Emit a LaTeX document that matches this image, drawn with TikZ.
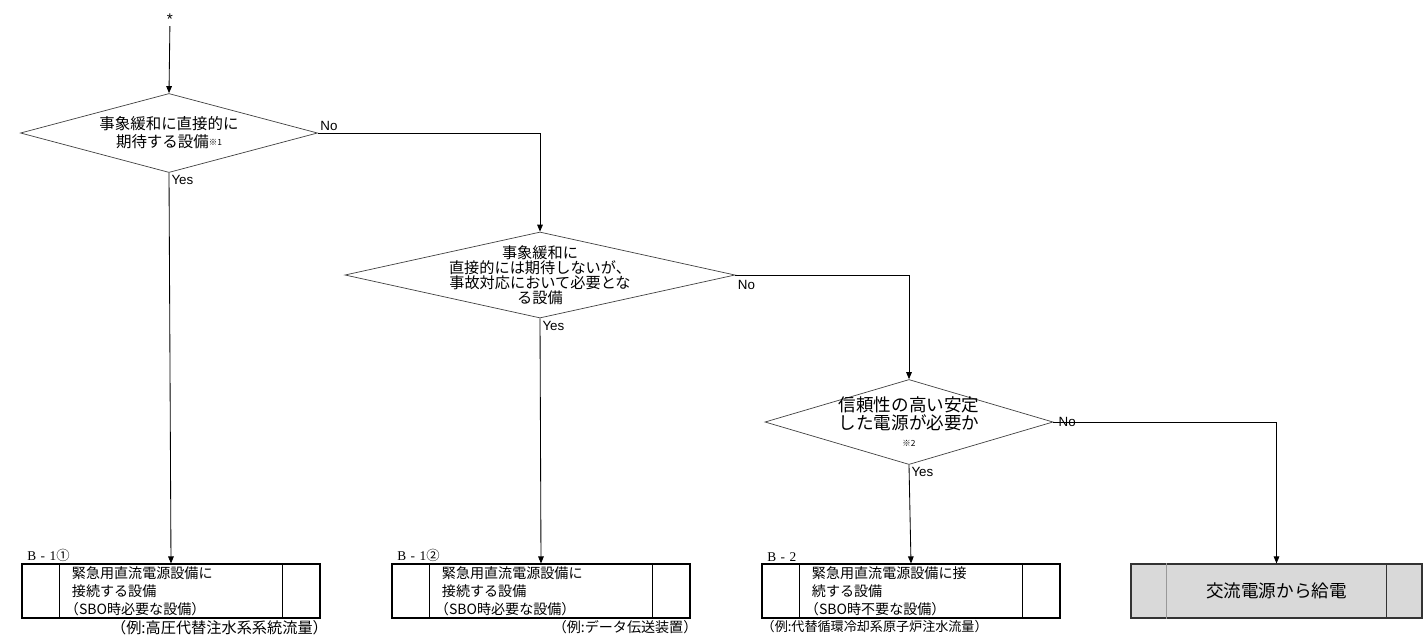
\documentclass[tikz,border=0pt]{standalone}
\usepackage{fontspec}
\setmainfont{Noto Sans CJK JP}
\newfontfamily\lsans{Liberation Sans}
\newfontfamily\lserif{Liberation Serif}
\usetikzlibrary{shapes.geometric,arrows.meta}
\tikzset{
  decision/.style={diamond,draw=black!75,line width=0.5pt,inner sep=0pt},
  dtext/.style={align=center,inner sep=0pt},
  procbox/.style={rectangle,draw,line width=0.8pt,minimum width=7.45cm,minimum height=1.35cm,
    text width=4.95cm,inner xsep=1.25cm,inner ysep=0pt,align=left,font=\fontsize{10}{12.8}\selectfont},
  yn/.style={font=\lsans\fontsize{9.5}{9.5}\selectfont,inner sep=1.5pt},
  tag/.style={font=\fontsize{9.5}{9.5}\selectfont,inner sep=1pt,anchor=south west},
  exnote/.style={inner sep=0pt},
  flow/.style={-{Triangle[length=5pt,width=4pt]},line width=0.6pt}
}
\begin{document}
\begin{tikzpicture}[x=0.025cm,y=-0.025cm]
\useasboundingbox (0,0) rectangle (1427,641);

\node[inner sep=1pt,font=\lsans\fontsize{11}{11}\selectfont] (start) at (170,19) {*};

\node[decision,minimum width=7.425cm,minimum height=1.975cm,
  label={[dtext,font=\fontsize{11}{12.8}\selectfont]center:事象緩和に直接的に\\期待する設備{\fontsize{6}{6}\selectfont\raisebox{0.6ex}{※1}}}] (d1) at (169,133) {};
\node[decision,minimum width=9.75cm,minimum height=2.15cm,
  label={[dtext,font=\fontsize{10.8}{10.8}\selectfont]center:事象緩和に\\直接的には期待しないが、\\事故対応において必要とな\\る設備}] (d2) at (540,275) {};
\node[decision,minimum width=7.2cm,minimum height=2.125cm,
  label={[dtext,font=\fontsize{12.5}{12.5}\selectfont]center:信頼性の高い安定\\した電源が必要か\\{\fontsize{6}{6}\selectfont ※2}}] (d3) at (909,422) {};

\node[procbox] (b1) at (171,591) {緊急用直流電源設備に\\接続する設備\\\hspace*{-0.5em}（SBO時必要な設備）};
\node[procbox] (b2) at (541,591) {緊急用直流電源設備に\\接続する設備\\\hspace*{-0.5em}（SBO時必要な設備）};
\node[procbox] (b3) at (911,591) {緊急用直流電源設備に接\\続する設備\\\hspace*{-0.5em}（SBO時不要な設備）};
\node[procbox,fill=black!15,draw=black!80,minimum width=7.275cm,text width=5.375cm,inner xsep=0.95cm,
  align=center,font=\fontsize{12.5}{12.5}\selectfont] (b4) at (1276.5,591) {交流電源から給電};

\foreach \b in {b1,b2,b3}{
  \draw[line width=0.6pt] ([xshift=0.95cm]\b.north west) -- ([xshift=0.95cm]\b.south west);
  \draw[line width=0.6pt] ([xshift=-0.95cm]\b.north east) -- ([xshift=-0.95cm]\b.south east);
}
\draw[black!40,line width=0.6pt] ([xshift=0.9cm]b4.north west) -- ([xshift=0.9cm]b4.south west);
\draw[black!80,line width=0.6pt] ([xshift=-0.9cm]b4.north east) -- ([xshift=-0.9cm]b4.south east);

\node[tag] (t1) at ([xshift=3]b1.north west) {{\lserif B\,\,-\,\,1}①};
\node[tag] (t2) at ([xshift=3]b2.north west) {{\lserif B\,\,-\,\,1}②};
\node[tag] (t3) at ([xshift=3]b3.north west) {{\lserif B\,\,-\,\,2}};

\node[exnote,anchor=north east,font=\fontsize{10.8}{10.8}\selectfont] (e1) at ([yshift=-1]b1.south east) {（例:高圧代替注水系系統流量）\hspace*{-0.5em}};
\node[exnote,anchor=north east,font=\fontsize{10}{10}\selectfont] (e2) at ([yshift=-1]b2.south east) {（例:データ伝送装置）\hspace*{-0.5em}};
\node[exnote,anchor=north west,font=\fontsize{9.3}{9.3}\selectfont] (e3) at ([yshift=-1]b3.south west) {（例:代替循環冷却系原子炉注水流量）};

\draw[flow] (start) -- (d1.north);
\draw[flow] (d1.east) -| (d2.north) node[pos=0,yn,anchor=south west] {No};
\draw[flow] (d1.south) -- (b1.north) node[pos=0,yn,anchor=north west] {Yes};
\draw[flow] (d2.east) -| (d3.north) node[pos=0,yn,anchor=north west,yshift=-2] {No};
\draw[flow] (d2.south) -- (b2.north) node[pos=0,yn,anchor=north west] {Yes};
\draw[flow] (d3.east) -| (b4.north) node[pos=0,yn,anchor=west,xshift=2] {No};
\draw[flow] (d3.south) -- (b3.north) node[pos=0,yn,anchor=north west] {Yes};
\end{tikzpicture}
\end{document}
